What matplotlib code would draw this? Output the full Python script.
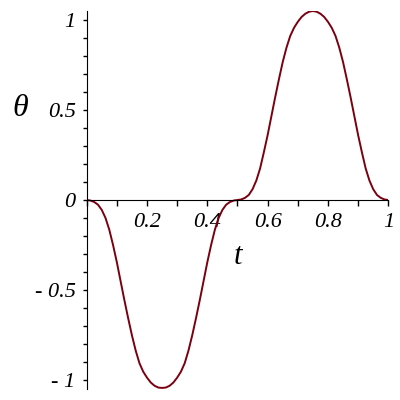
import numpy as np
import matplotlib.pyplot as plt
from matplotlib.ticker import MultipleLocator, FixedLocator

# curve, t step 0.0125
t = [i * 0.0125 for i in range(81)]
theta = [0.000, -0.003, -0.011, -0.026, -0.055, -0.100, -0.165, -0.250, -0.345,
         -0.450, -0.555, -0.655, -0.750, -0.835, -0.905, -0.952, -0.985, -1.012,
         -1.030, -1.040, -1.042, -1.040, -1.030, -1.012, -0.985, -0.952, -0.905,
         -0.835, -0.750, -0.655, -0.555, -0.450, -0.345, -0.250, -0.165, -0.100,
         -0.055, -0.026, -0.011, -0.003, 0.000,
         0.003, 0.012, 0.028, 0.060, 0.108, 0.175, 0.265, 0.360, 0.465,
         0.570, 0.670, 0.765, 0.845, 0.910, 0.955, 0.988, 1.015, 1.033,
         1.044, 1.048, 1.044, 1.033, 1.015, 0.988, 0.955, 0.910, 0.845,
         0.765, 0.670, 0.570, 0.465, 0.360, 0.265, 0.175, 0.108, 0.060,
         0.028, 0.012, 0.003, 0.000]

x_ticks = [0.2, 0.4, 0.6, 0.8, 1.0]
x_labels = ['0.2', '0.4', '0.6', '0.8', '1']
y_ticks = [-1, -0.5, 0, 0.5, 1]
y_labels = ['- 1', '- 0.5', '0', '0.5', '1']

fig = plt.figure(figsize=(4, 4), dpi=100)
ax = fig.add_axes([0.2167, 0.0275, 0.754, 0.945])
ax.plot(t, theta, color='#7a0010', lw=1.4)

ax.set_xlim(0, 1)
ax.set_ylim(-1.048, 1.048)
ax.spines['top'].set_visible(False)
ax.spines['right'].set_visible(False)
ax.spines['bottom'].set_position(('data', 0))
ax.spines['left'].set_position(('data', 0))

font = dict(family='Liberation Serif', style='italic', size=16)
ax.xaxis.set_major_locator(FixedLocator(x_ticks))
ax.xaxis.set_minor_locator(MultipleLocator(0.1))
ax.set_xticklabels(x_labels, **font)
ax.yaxis.set_major_locator(FixedLocator(y_ticks))
ax.yaxis.set_minor_locator(MultipleLocator(0.1))
ax.set_yticklabels(y_labels, **font)
ax.tick_params(axis='x', which='both', direction='out', length=4, width=1, pad=5)
ax.tick_params(axis='y', which='both', direction='out', length=3, width=1, pad=5)

fig.text(20 / 400, 1 - 108 / 400, 'θ', family='Liberation Serif', style='italic',
         size=23, ha='center', va='center')
fig.text(238 / 400, 1 - 256 / 400, 't', family='Liberation Serif', style='italic',
         size=22, ha='center', va='center')

fig.savefig('out.png', dpi=100)
